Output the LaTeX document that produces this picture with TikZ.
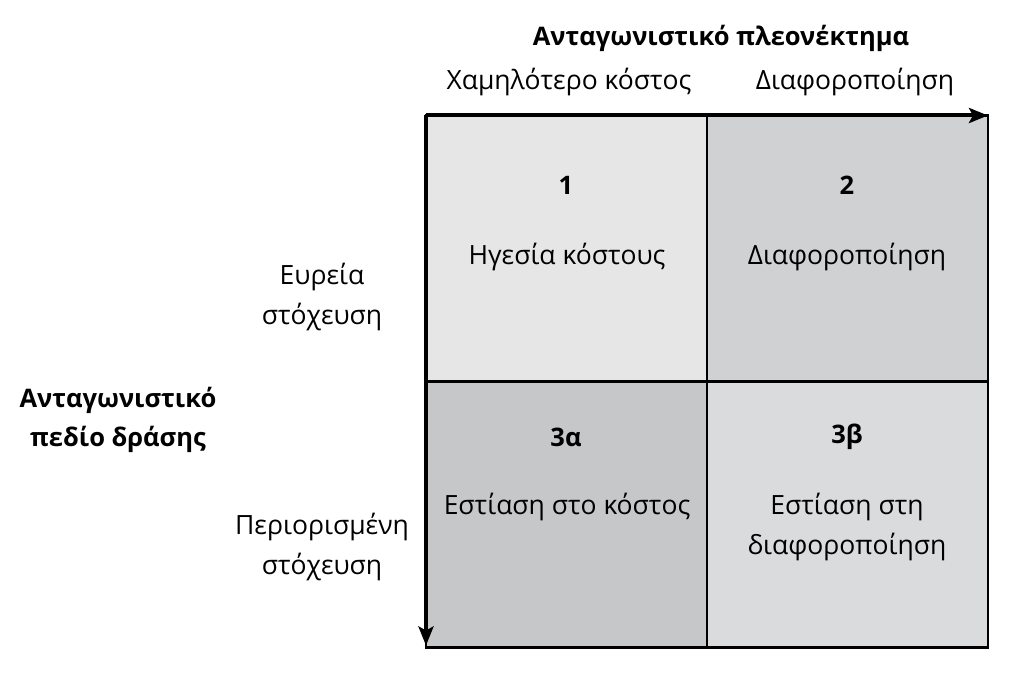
\documentclass[tikz,border=0pt]{standalone}
\usepackage{fontspec}
\setmainfont{Open Sans}
\usetikzlibrary{arrows.meta}

\begin{document}
\begin{tikzpicture}[x=1pt,y=-1pt]
\tikzset{cell/.style={draw=black, line width=2.5pt, minimum width=281pt, minimum height=266pt, inner sep=0pt, outer sep=0pt},
  lbl/.style={font=\fontsize{26.5}{40}\selectfont, align=center, inner sep=0pt},
  ttl/.style={font=\bfseries\fontsize{25.5}{39}\selectfont, align=center, inner sep=0pt},
  axis/.style={line width=4pt, -{Stealth[length=19pt,width=15pt,inset=4pt]}}}
\useasboundingbox[fill=white] (0,0) rectangle (1024,676);
% the four cells
\node[cell, fill={rgb,255:red,230;green,230;blue,230}] (c1) at (566.5,248.5) {};
\node[cell, fill={rgb,255:red,208;green,209;blue,211}] (c2) at (847.5,248.5) {};
\node[cell, fill={rgb,255:red,198;green,199;blue,201}] (c3a) at (566.5,514.5) {};
\node[cell, fill={rgb,255:red,218;green,219;blue,221}] (c3b) at (847.5,514.5) {};
% axes
\draw[axis] (c1.north west) -- (c2.north east);
\draw[axis] (c1.north west) -- ([yshift=2pt]c3a.south west);
% titles
\node[ttl] (tadv) at (721,38) {Ανταγωνιστικό πλεονέκτημα};
\node[lbl] (tlow) at (569,82) {Χαμηλότερο κόστος};
\node[lbl] (tdif) at (855,82) {Διαφοροποίηση};
\node[ttl] (tscope) at (118,420) {Ανταγωνιστικό\\πεδίο δράσης};
\node[lbl] (tbroad) at (322,297) {Ευρεία\\στόχευση};
\node[lbl] (tnarrow) at (322,547) {Περιορισμένη\\στόχευση};
% cell texts
\node[ttl] (n1) at (566,185) {1};
\node[lbl] (l1) at (567,257) {Ηγεσία κόστους};
\node[ttl] (n2) at (847,185) {2};
\node[lbl] (l2) at (847,257) {Διαφοροποίηση};
\node[ttl] (n3a) at (566,437) {3α};
\node[lbl] (l3a) at (567,507) {Εστίαση στο κόστος};
\node[ttl] (n3b) at (847,437) {3β};
\node[lbl] (l3b) at (847,527) {Εστίαση στη\\διαφοροποίηση};
\end{tikzpicture}
\end{document}
